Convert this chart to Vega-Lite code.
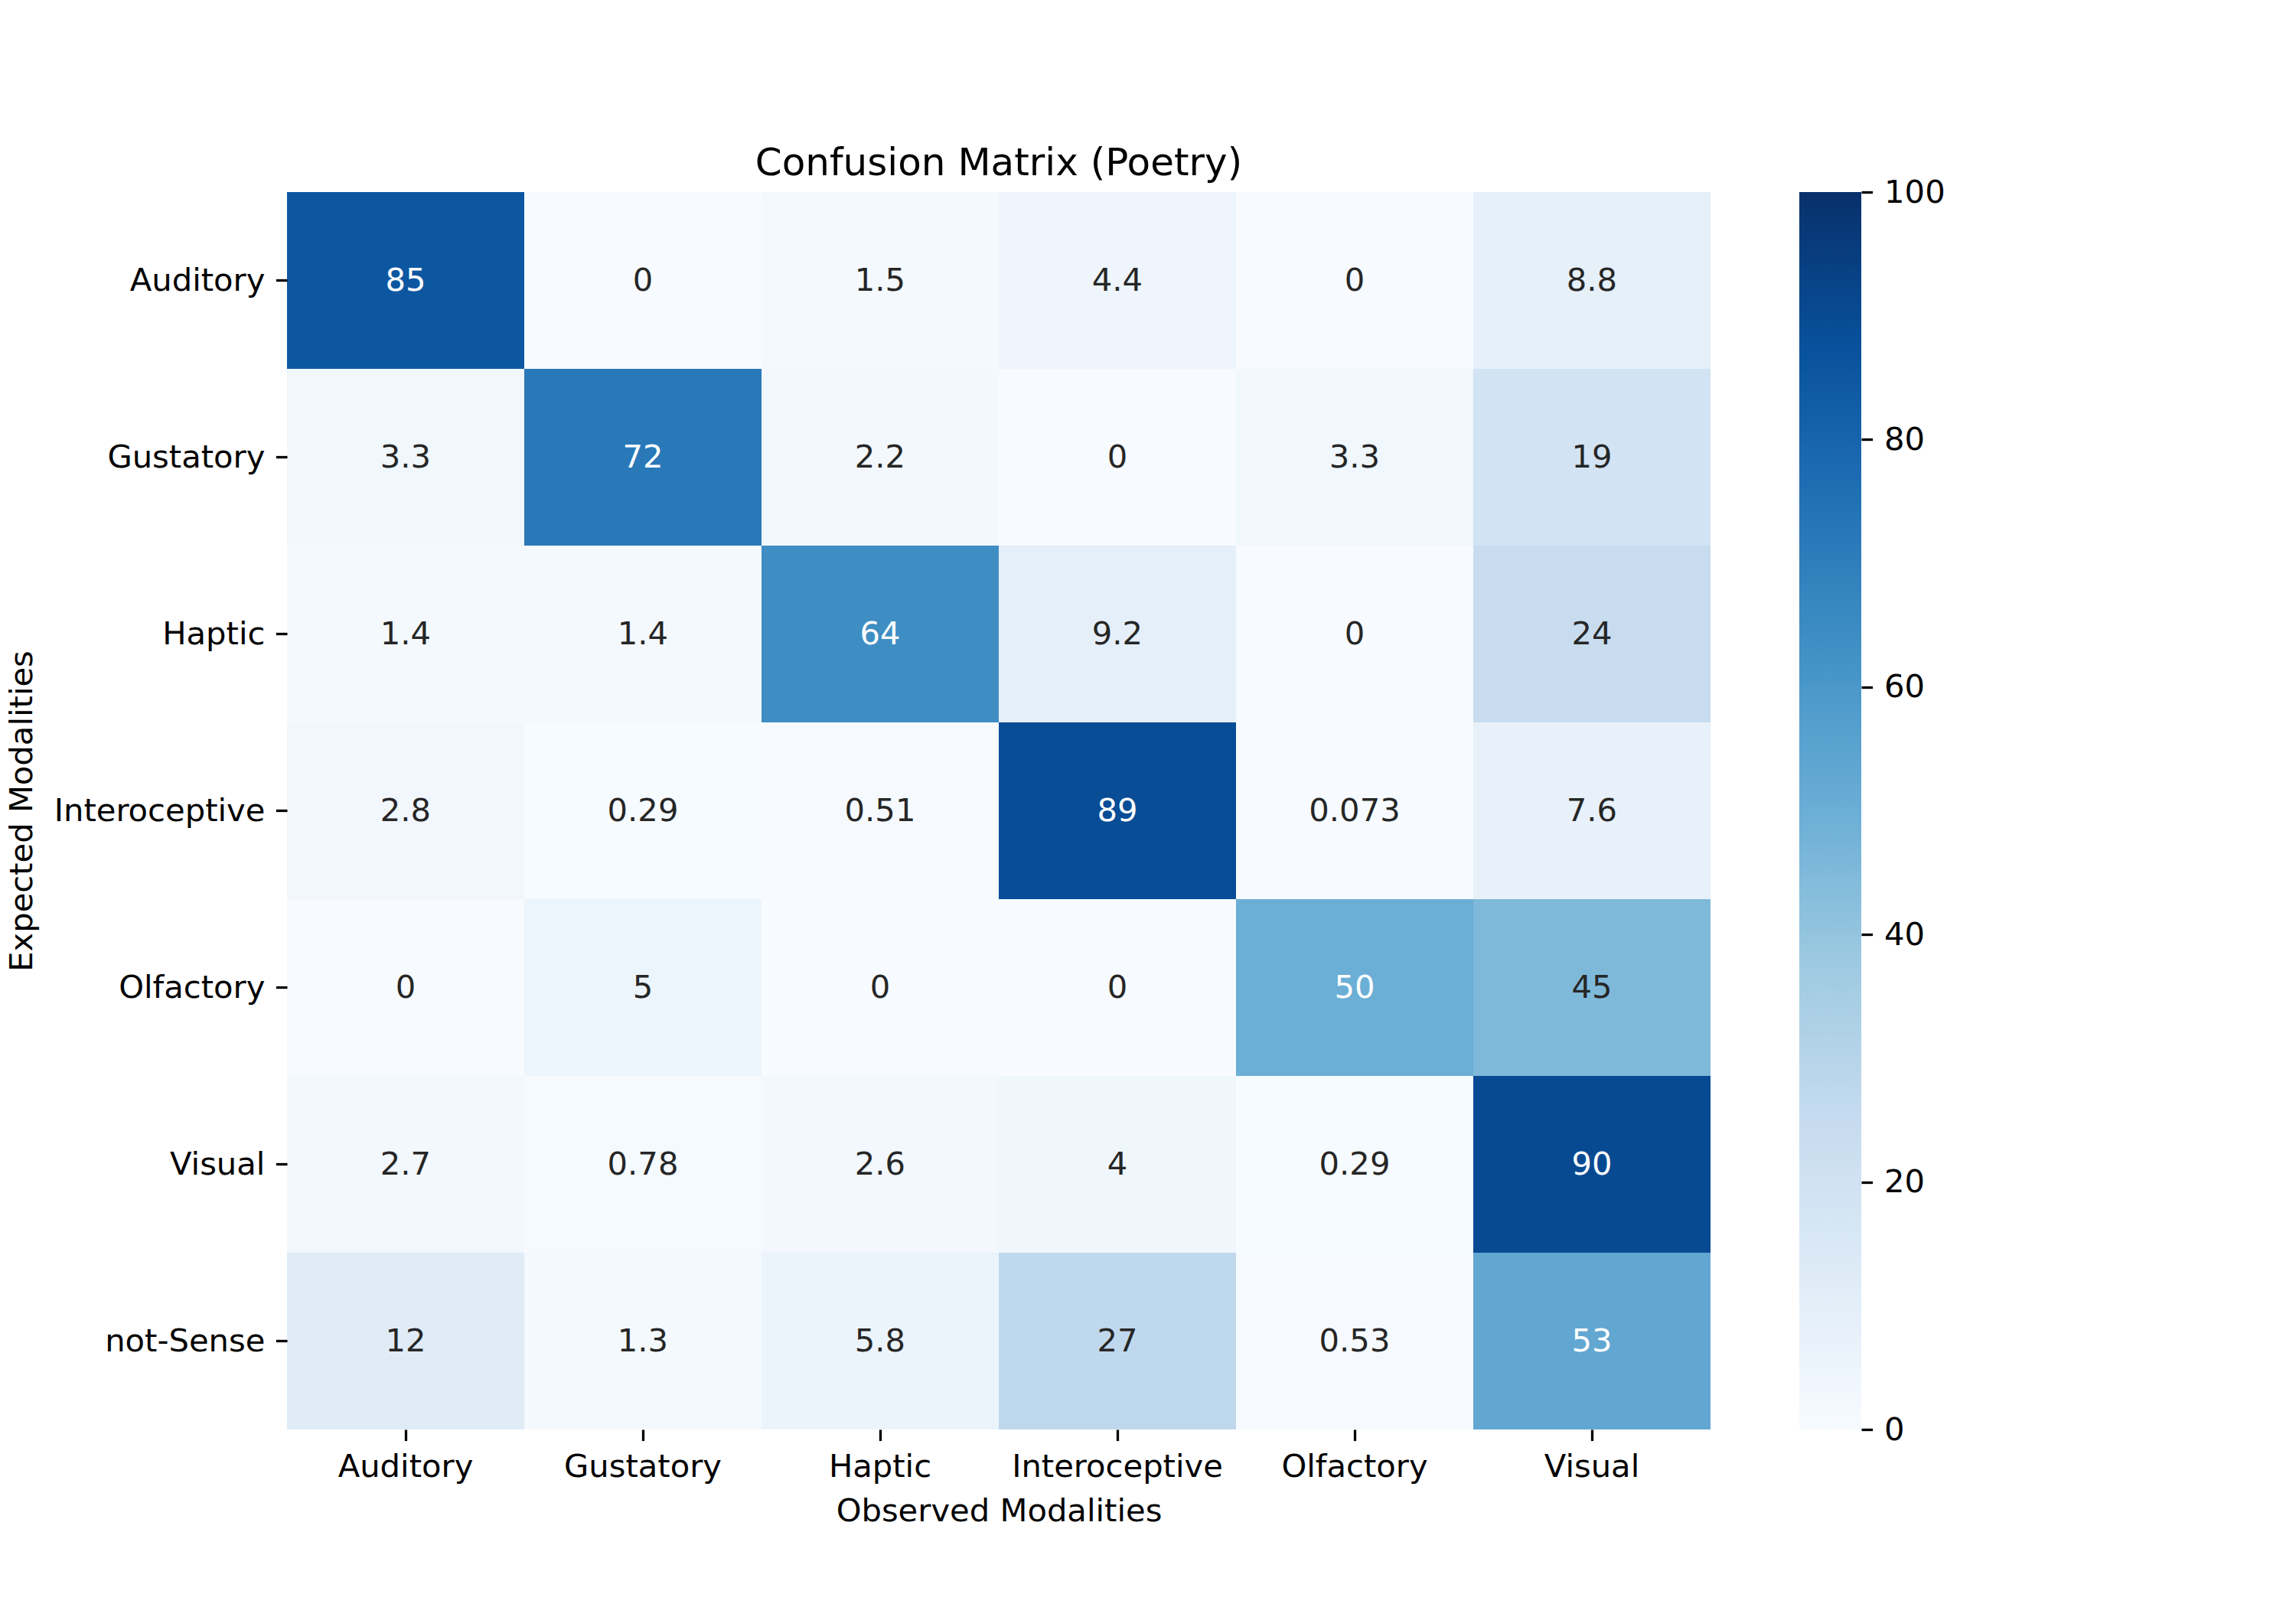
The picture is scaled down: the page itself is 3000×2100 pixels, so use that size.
{
  "$schema": "https://vega.github.io/schema/vega-lite/v6.json",
  "background": "white",
  "padding": {"left": 8, "top": 189, "right": 5, "bottom": 5},
  "config": {
    "font": "DejaVu Sans",
    "view": {"stroke": null},
    "axis": {"labelColor": "black", "titleColor": "black", "tickColor": "black", "labelFont": "DejaVu Sans", "titleFont": "DejaVu Sans", "titleFontWeight": "normal", "labelLimit": 1000}
  },
  "spacing": 116,
  "hconcat": [
    {
      "width": 1860,
      "height": 1617,
      "title": {"text": "Confusion Matrix (Poetry)", "fontSize": 50, "fontWeight": "normal", "font": "DejaVu Sans", "color": "black", "anchor": "middle", "frame": "group", "baseline": "alphabetic", "offset": -28},
      "data": {"values": [
        {"expected": "Auditory", "observed": "Auditory", "v": 85},
        {"expected": "Auditory", "observed": "Gustatory", "v": 0},
        {"expected": "Auditory", "observed": "Haptic", "v": 1.5},
        {"expected": "Auditory", "observed": "Interoceptive", "v": 4.4},
        {"expected": "Auditory", "observed": "Olfactory", "v": 0},
        {"expected": "Auditory", "observed": "Visual", "v": 8.8},
        {"expected": "Gustatory", "observed": "Auditory", "v": 3.3},
        {"expected": "Gustatory", "observed": "Gustatory", "v": 72},
        {"expected": "Gustatory", "observed": "Haptic", "v": 2.2},
        {"expected": "Gustatory", "observed": "Interoceptive", "v": 0},
        {"expected": "Gustatory", "observed": "Olfactory", "v": 3.3},
        {"expected": "Gustatory", "observed": "Visual", "v": 19},
        {"expected": "Haptic", "observed": "Auditory", "v": 1.4},
        {"expected": "Haptic", "observed": "Gustatory", "v": 1.4},
        {"expected": "Haptic", "observed": "Haptic", "v": 64},
        {"expected": "Haptic", "observed": "Interoceptive", "v": 9.2},
        {"expected": "Haptic", "observed": "Olfactory", "v": 0},
        {"expected": "Haptic", "observed": "Visual", "v": 24},
        {"expected": "Interoceptive", "observed": "Auditory", "v": 2.8},
        {"expected": "Interoceptive", "observed": "Gustatory", "v": 0.29},
        {"expected": "Interoceptive", "observed": "Haptic", "v": 0.51},
        {"expected": "Interoceptive", "observed": "Interoceptive", "v": 89},
        {"expected": "Interoceptive", "observed": "Olfactory", "v": 0.073},
        {"expected": "Interoceptive", "observed": "Visual", "v": 7.6},
        {"expected": "Olfactory", "observed": "Auditory", "v": 0},
        {"expected": "Olfactory", "observed": "Gustatory", "v": 5},
        {"expected": "Olfactory", "observed": "Haptic", "v": 0},
        {"expected": "Olfactory", "observed": "Interoceptive", "v": 0},
        {"expected": "Olfactory", "observed": "Olfactory", "v": 50},
        {"expected": "Olfactory", "observed": "Visual", "v": 45},
        {"expected": "Visual", "observed": "Auditory", "v": 2.7},
        {"expected": "Visual", "observed": "Gustatory", "v": 0.78},
        {"expected": "Visual", "observed": "Haptic", "v": 2.6},
        {"expected": "Visual", "observed": "Interoceptive", "v": 4},
        {"expected": "Visual", "observed": "Olfactory", "v": 0.29},
        {"expected": "Visual", "observed": "Visual", "v": 90},
        {"expected": "not-Sense", "observed": "Auditory", "v": 12},
        {"expected": "not-Sense", "observed": "Gustatory", "v": 1.3},
        {"expected": "not-Sense", "observed": "Haptic", "v": 5.8},
        {"expected": "not-Sense", "observed": "Interoceptive", "v": 27},
        {"expected": "not-Sense", "observed": "Olfactory", "v": 0.53},
        {"expected": "not-Sense", "observed": "Visual", "v": 53}
      ]},
      "encoding": {
        "x": {"field": "observed", "type": "nominal",
              "sort": ["Auditory", "Gustatory", "Haptic", "Interoceptive", "Olfactory", "Visual"],
              "scale": {"paddingInner": 0, "paddingOuter": 0},
              "axis": {"title": "Observed Modalities", "labelAngle": 0, "labelFontSize": 41.7, "titleFontSize": 41.7, "tickSize": 14.6, "tickWidth": 3.3, "labelPadding": 14, "titlePadding": 16, "domain": false, "labelLimit": 1000}},
        "y": {"field": "expected", "type": "nominal",
              "sort": ["Auditory", "Gustatory", "Haptic", "Interoceptive", "Olfactory", "Visual", "not-Sense"],
              "scale": {"paddingInner": 0, "paddingOuter": 0},
              "axis": {"title": "Expected Modalities", "labelFontSize": 41.7, "titleFontSize": 41.7, "tickSize": 14.6, "tickWidth": 3.3, "labelPadding": 14.5, "titleX": -325, "titleY": 808.5, "titleAngle": 270, "titleBaseline": "bottom", "titleAlign": "center", "domain": false, "labelLimit": 1000}}
      },
      "layer": [
        {
          "mark": {"type": "rect"},
          "encoding": {
            "color": {"field": "v", "type": "quantitative", "legend": null,
                      "scale": {"domain": [0, 12.5, 25, 37.5, 50, 62.5, 75, 87.5, 100],
                                "range": ["#f7fbff", "#deebf7", "#c6dbef", "#9ecae1", "#6baed6", "#4292c6", "#2171b5", "#08519c", "#08306b"],
                                "interpolate": "rgb"}}
          }
        },
        {
          "mark": {"type": "text", "fontSize": 41.7, "font": "DejaVu Sans", "align": "center", "baseline": "middle"},
          "encoding": {
            "text": {"field": "v", "type": "quantitative", "format": ".2~g"},
            "color": {"condition": {"test": "datum.v >= 48", "value": "white"}, "value": "#262626"}
          }
        }
      ]
    },
    {
      "width": 81,
      "height": 1617,
      "data": {"values": [{"lo": 0, "hi": 100, "l": 0, "r": 1}]},
      "mark": {"type": "rect", "color": {"gradient": "linear", "x1": 0, "y1": 1, "x2": 0, "y2": 0,
        "stops": [
          {"offset": 0, "color": "#f7fbff"},
          {"offset": 0.125, "color": "#deebf7"},
          {"offset": 0.25, "color": "#c6dbef"},
          {"offset": 0.375, "color": "#9ecae1"},
          {"offset": 0.5, "color": "#6baed6"},
          {"offset": 0.625, "color": "#4292c6"},
          {"offset": 0.75, "color": "#2171b5"},
          {"offset": 0.875, "color": "#08519c"},
          {"offset": 1, "color": "#08306b"}
        ]}},
      "encoding": {
        "x": {"field": "l", "type": "quantitative", "scale": {"domain": [0, 1], "nice": false}, "axis": null},
        "x2": {"field": "r"},
        "y": {"field": "lo", "type": "quantitative", "scale": {"domain": [0, 100], "nice": false},
              "axis": {"orient": "right", "values": [0, 20, 40, 60, 80, 100], "title": null, "grid": false, "domain": false, "labelFontSize": 41.7, "tickSize": 14.6, "tickWidth": 3.3, "labelPadding": 15}},
        "y2": {"field": "hi"}
      }
    }
  ]
}
